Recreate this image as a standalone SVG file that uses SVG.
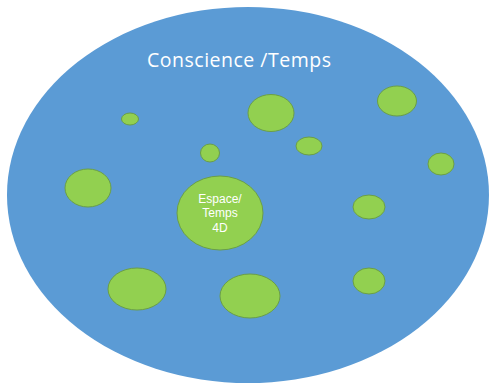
<svg xmlns="http://www.w3.org/2000/svg" width="489" height="383" viewBox="0 0 489 383">
<style>
.bg{fill:#ffffff}
.outer{fill:#5b9bd5}
.dot{fill:#92d050;stroke:#6b9f46;stroke-width:1}
.title{font-family:"Open Sans","Liberation Sans",sans-serif;font-size:19.5px;fill:#ffffff;text-anchor:middle}
.lbl{font-family:"Liberation Sans",Arial,sans-serif;font-size:12px;fill:#ffffff;text-anchor:middle}
</style>
<rect class="bg" x="0" y="0" width="489" height="383"/>
<g id="conscience">
<ellipse class="outer" cx="248" cy="195" rx="241" ry="188"/>
<text class="title" x="239" y="67" textLength="184" lengthAdjust="spacing">Conscience /Temps</text>
</g>
<g id="espace-temps">
<ellipse class="dot" cx="220" cy="213" rx="43" ry="37"/>
<text class="lbl" x="220" y="202.5">Espace/</text>
<text class="lbl" x="220" y="217">Temps</text>
<text class="lbl" x="220" y="231.5">4D</text>
</g>
<g id="c1"><ellipse class="dot" cx="130" cy="119" rx="8.5" ry="6"/></g>
<g id="c2"><ellipse class="dot" cx="271" cy="113" rx="23" ry="18.5"/></g>
<g id="c3"><ellipse class="dot" cx="397" cy="101" rx="19.5" ry="15"/></g>
<g id="c4"><ellipse class="dot" cx="210" cy="153" rx="9.5" ry="9"/></g>
<g id="c5"><ellipse class="dot" cx="309" cy="146" rx="13" ry="9"/></g>
<g id="c6"><ellipse class="dot" cx="441" cy="164" rx="13" ry="11"/></g>
<g id="c7"><ellipse class="dot" cx="88" cy="188" rx="23" ry="19"/></g>
<g id="c8"><ellipse class="dot" cx="369" cy="207" rx="16" ry="12"/></g>
<g id="c9"><ellipse class="dot" cx="137" cy="289" rx="29" ry="21"/></g>
<g id="c10"><ellipse class="dot" cx="250" cy="296" rx="30" ry="22"/></g>
<g id="c11"><ellipse class="dot" cx="369" cy="281" rx="16" ry="13"/></g>
<g id="connectors"></g>
</svg>
